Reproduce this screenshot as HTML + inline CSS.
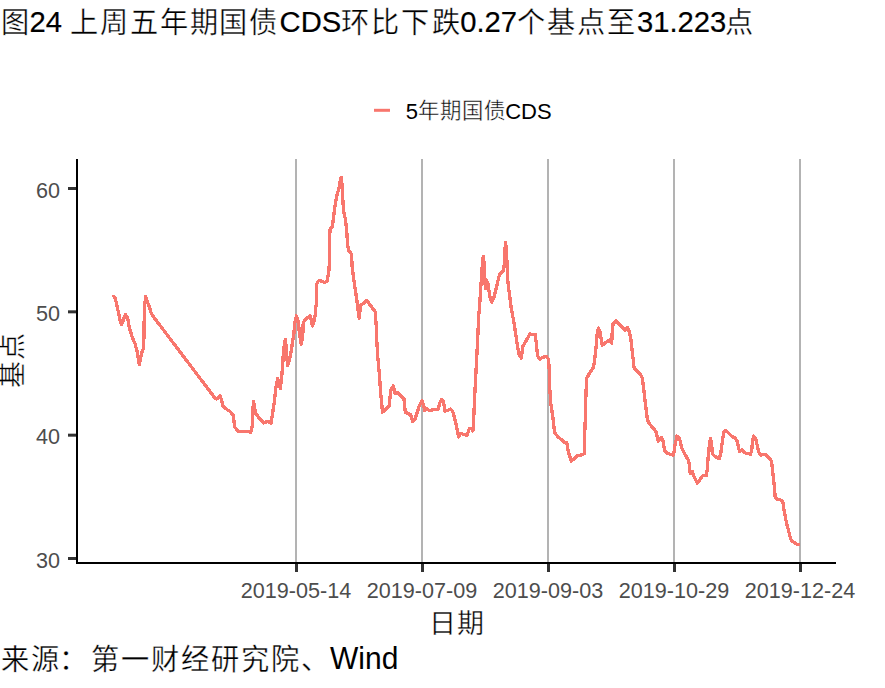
<!DOCTYPE html>
<html lang="zh-CN"><head><meta charset="utf-8"><title>图24 上周五年期国债CDS环比下跌0.27个基点至31.223点</title><style>
html,body{margin:0;padding:0;background:#fff;width:885px;height:688px;overflow:hidden}
svg{display:block}
text{font-family:"Liberation Sans",sans-serif;fill:#000}
.ax text{fill:#4d4d4d}
</style></head><body>
<svg width="885" height="688" viewBox="0 0 885 688">
<rect x="0" y="0" width="885" height="688" fill="#fff"/>
<text transform="translate(0,32) scale(1,1.03)" font-size="29.2" fill="#000"><tspan x="0.70" y="0.485" font-size="28.2" stroke="#fff" stroke-width="0.35">图</tspan><tspan x="29.6" y="0.000" stroke="#000" stroke-width="0.2">24 </tspan><tspan x="70.31 100.14 129.97 159.81 189.63 219.46 249.29" y="0.485" font-size="28.2" stroke="#fff" stroke-width="0.35">上周五年期国债</tspan><tspan x="279.6" y="0.000" stroke="#000" stroke-width="0.2">CDS</tspan><tspan x="340.74 371.00 401.28 431.55" y="0.485" font-size="28.2" stroke="#fff" stroke-width="0.35">环比下跌</tspan><tspan x="460.2" y="0.000" stroke="#000" stroke-width="0.2">0.27</tspan><tspan x="517.20 547.30 577.40 607.50" y="0.485" font-size="28.2" stroke="#fff" stroke-width="0.35">个基点至</tspan><tspan x="637" y="0.000" stroke="#000" stroke-width="0.2">31.223</tspan><tspan x="725.20" y="0.485" font-size="28.2" stroke="#fff" stroke-width="0.35">点</tspan></text>
<line x1="374" y1="110.3" x2="390" y2="110.3" stroke="#F8766D" stroke-width="3"/>
<text transform="translate(0,118.7) scale(1,1.03)" font-size="22" fill="#000"><tspan x="405.8" y="0.000">5</tspan><tspan x="417.80 440.00 462.20 484.40" y="-0.291" font-size="21.4" stroke="#fff" stroke-width="0.4">年期国债</tspan><tspan x="505.2" y="0.000">CDS</tspan></text>
<g fill="#b3b3b3">
<rect x="295" y="159" width="2" height="403"/>
<rect x="421" y="159" width="2" height="403"/>
<rect x="547" y="159" width="2" height="403"/>
<rect x="673" y="159" width="2" height="403"/>
<rect x="799" y="159" width="2" height="403"/>
</g>
<polyline points="112.9,295.2 115.2,298.1 116.8,304.6 118.7,313.8 120.1,320.3 121.4,324.3 123.3,320.3 125.3,314.5 127.5,317.1 129.2,326.9 131.8,336 135.1,343.9 137.5,353.1 139.3,364.8 141.6,353.1 143.6,347.8 144,334.7 144.3,309.9 145.6,296.8 147.5,302 149.5,307.3 151.5,313.8 154.7,318.4 215.1,398.2 216.8,398.9 220.2,395.5 223.1,406.2 225.2,408.3 229.6,411.2 233.2,414.9 234.7,427.2 238.3,431.3 248.5,431.6 250.7,432.3 252.1,427.2 253.4,401.2 255.8,413.5 259.4,418.5 263.8,423 267.4,421.3 271.1,423 274,404.1 274.7,399.2 275.7,389 277.7,378.3 280.3,388.5 281.8,375.8 282.8,363.6 283.5,350.3 285.3,339.2 286.4,348.3 287.4,365.6 289.4,360.5 291.4,350.3 292.3,343.5 293.7,335.5 294.8,323.2 296.5,315.9 297.7,319.5 298.8,326.8 299.5,334 301.3,344.2 302.8,335.5 303.2,322.4 304.2,321 306.4,318.4 310.1,315.9 311.1,319.5 312.5,326.1 314,321.7 315.1,315.9 315.5,309.4 316.2,305 316.2,294 316.4,284.2 319,280.3 324.3,282.3 326.9,281.6 328.8,272.4 329.5,260 329.4,239.4 330.2,228.9 332.4,226.3 333.7,215.8 335.1,205.3 337,194.9 339,188.3 339.9,181.8 341.3,177.2 342.3,187 342.9,201.4 343.8,211.9 345.5,219.7 346.8,231.5 347.5,244.6 348.8,250.5 351.4,253.8 352.2,267 353.5,277.5 355.2,289.3 356.8,299.7 357.8,307.6 359.1,318.1 360.7,305 363.3,303.7 366.6,300.4 369.2,303.7 372.5,308.2 375.1,311.5 376.2,325.9 376.7,340 377.9,358.6 379.4,374.3 380.5,391.3 381.8,404.4 382.4,412.2 385.7,409.6 389,406.3 390.9,390 393.3,386 394.9,393.2 397.5,392.6 400.8,395.9 404,399.1 405.3,412.2 408,413.5 410.6,414.8 412.5,421.4 415.2,418.8 419.1,406.4 422.1,400.9 423.6,405.4 424.7,410.5 426.7,408.5 429.2,410.5 432.3,410 435.3,409.5 438.4,409 439.4,403.4 441.7,399.3 443.5,401.4 445,411 447.6,410.5 450.6,409 452.6,411 454.7,418.7 456.7,426.8 458.5,437 460.8,433.4 463.8,434.4 466.9,435.4 469.4,428.8 471.5,428.3 473,430.9 473.8,416.6 474.5,400 476.5,362 478.1,330 478.7,315.9 479.7,305.4 480.4,292.4 481.4,279.3 482.3,264.9 483.3,256.4 484.4,266.2 484.9,279.3 485.3,288.4 486.6,280.6 487.9,283.2 488.8,289.7 490.1,297.6 491.8,302.2 493.8,297.6 495.8,289.7 497.7,281.9 499.3,275.3 501,272.7 503,271.4 504.3,264.9 504.7,251.8 505.6,242.6 506.6,253.1 507.1,266.2 507.8,280.6 509.5,295 510.2,300 511.4,309.3 513.7,320.9 515.5,332.6 517.2,344.2 519,354.7 521.3,358.1 522.7,346.5 524.8,343 527.1,339 530,333.7 532.9,334.9 535.2,334.3 536.4,344.2 537.6,355.8 539.9,359.3 542.2,357.6 546.3,356.4 548.6,359.3 549.2,369.8 549.7,387.5 550.8,403.5 553,418 554.5,432.6 558.1,437 561.7,439.9 564.7,442.8 566.8,442.8 568.3,451.5 571.2,461 574.1,458.8 577,455.9 580.7,455.2 584.3,453.7 584.6,437 585.5,413.7 585.8,399.1 586.5,378.7 589.4,373.3 593.2,367.8 594.3,362.3 595.4,353.6 596.5,342.7 597.2,334 598.3,328 599.7,330.7 601.1,338.4 602.2,345.4 604.6,343.3 607.9,341.1 610.1,340 611.7,343.3 612.3,329.6 613.1,323.6 616.1,320.9 619.9,324.7 624.8,330.2 627.5,327.4 629.2,331.3 630.6,337.3 631.9,348.2 633,358 634.1,367.8 637.3,371.1 640.6,374.3 642.2,377.9 643.5,387 644.8,398.8 646.1,409.3 647.4,419.7 649.4,423.7 652.7,427.6 655.9,431.5 658.3,441.3 661.2,437.4 663.1,441.3 664.5,450.5 667.1,453.1 670.3,454.4 673.6,455.1 674.9,445.9 676.9,436.1 679.5,438.1 681.5,447.2 684.1,452.6 688.6,460.7 689.7,467.8 690.2,473.9 692.2,471.4 694.2,477 697.3,483.1 699.8,480 702.9,475.4 706.4,475.4 707.3,468.8 708,458.7 709,448.5 710.5,438.3 711.7,445.4 712.3,453.6 715.1,456.6 719.2,458.7 720.7,453.6 721.7,446.4 722.7,439.3 723.7,432.2 725.3,430.2 727.8,432.2 731.9,436.3 735.4,438.3 737.3,441.3 738.5,448.3 739.7,451.7 742,449.4 744.9,452.9 747.8,453.5 750.7,454.1 751.9,448.3 752.4,441.3 753.6,436 755.7,439 757.1,444.8 758.8,452.3 760.6,455.2 762.9,454.7 765.8,454.7 768.7,457.6 771.6,461 772.4,469.2 773.4,478.5 774.5,487.8 775.1,497.1 777.6,499.5 779.9,499.5 782.8,501.3 783.7,508.9 785.1,515.5 786.5,523.1 788.4,529.7 789.9,536.3 791.3,540.6 794.1,542.5 797,544.4 800.3,544.6" fill="none" stroke="#F8766D" stroke-width="3.3" stroke-linejoin="round" stroke-linecap="butt" shape-rendering="crispEdges"/>
<rect x="76" y="159" width="2" height="405" fill="#000"/>
<rect x="76" y="562" width="760" height="2" fill="#000"/>
<g fill="#333">
<rect x="68" y="187" width="8" height="3"/>
<rect x="68" y="310.33" width="8" height="3"/>
<rect x="68" y="433.67" width="8" height="3"/>
<rect x="68" y="557" width="8" height="3"/>
<rect x="295" y="564" width="3" height="8"/>
<rect x="421" y="564" width="3" height="8"/>
<rect x="547" y="564" width="3" height="8"/>
<rect x="673" y="564" width="3" height="8"/>
<rect x="799" y="564" width="3" height="8"/>
</g>
<g class="ax">
<text transform="translate(60,197.6) scale(1,1.03)" font-size="21.6" text-anchor="end">60</text>
<text transform="translate(60,320.9) scale(1,1.03)" font-size="21.6" text-anchor="end">50</text>
<text transform="translate(60,444.3) scale(1,1.03)" font-size="21.6" text-anchor="end">40</text>
<text transform="translate(60,567.6) scale(1,1.03)" font-size="21.6" text-anchor="end">30</text>
<text transform="translate(296,598) scale(1,1.03)" font-size="21.6" text-anchor="middle">2019-05-14</text>
<text transform="translate(422,598) scale(1,1.03)" font-size="21.6" text-anchor="middle">2019-07-09</text>
<text transform="translate(548,598) scale(1,1.03)" font-size="21.6" text-anchor="middle">2019-09-03</text>
<text transform="translate(674,598) scale(1,1.03)" font-size="21.6" text-anchor="middle">2019-10-29</text>
<text transform="translate(800,598) scale(1,1.03)" font-size="21.6" text-anchor="middle">2019-12-24</text>
</g>
<text x="428.60 456.60" y="633" font-size="27" stroke="#fff" stroke-width="0.35">日期</text>
<text transform="translate(22.3,360.7) rotate(-90)" x="-27.50 0.50" y="0" font-size="27" stroke="#fff" stroke-width="0.35">基点</text>
<text transform="translate(0,669) scale(1,1.03)" font-size="30" fill="#000"><tspan x="0.63 30.68" y="0.874" font-size="28.2" stroke="#fff" stroke-width="0.35">来源</tspan><tspan x="58.70" y="0.874" font-size="28.2" stroke="#fff" stroke-width="0.35">：</tspan><tspan x="90.78 120.83 150.88 180.93 210.98 241.03 271.08 301.12" y="0.874" font-size="28.2" stroke="#fff" stroke-width="0.35">第一财经研究院、</tspan><tspan x="330" y="0.000">Wind</tspan></text>
</svg>
</body></html>
